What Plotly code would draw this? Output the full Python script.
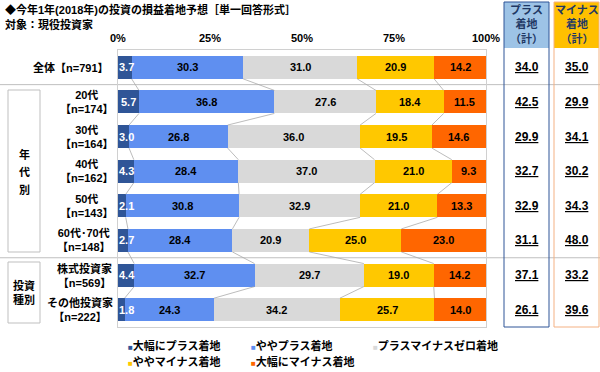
import plotly.graph_objects as go

# ---------------- data ----------------
row_labels = ["全体【n=791】", "20代<br>【n=174】", "30代<br>【n=164】", "40代<br>【n=162】",
              "50代<br>【n=143】", "60代･70代<br>【n=148】", "株式投資家<br>【n=569】", "その他投資家<br>【n=222】"]
series_names = ["大幅にプラス着地", "ややプラス着地", "プラスマイナスゼロ着地", "ややマイナス着地", "大幅にマイナス着地"]
big_plus = [3.7, 5.7, 3.0, 4.3, 2.1, 2.7, 4.4, 1.8]
some_plus = [30.3, 36.8, 26.8, 28.4, 30.8, 28.4, 32.7, 24.3]
zero = [31.0, 27.6, 36.0, 37.0, 32.9, 20.9, 29.7, 34.2]
some_minus = [20.9, 18.4, 19.5, 21.0, 21.0, 25.0, 19.0, 25.7]
big_minus = [14.2, 11.5, 14.6, 9.3, 13.3, 23.0, 14.2, 14.0]
plus_total = [34.0, 42.5, 29.9, 32.7, 32.9, 31.1, 37.1, 26.1]
minus_total = [35.0, 29.9, 34.1, 30.2, 34.3, 48.0, 33.2, 39.6]
tick_vals = [0, 25, 50, 75, 100]
tick_text = ["0%", "25%", "50%", "75%", "100%"]

series = [big_plus, some_plus, zero, some_minus, big_minus]
colors = ["#2F5597", "#5F8FF0", "#D9D9D9", "#FFC800", "#FF6600"]
text_colors = ["white", "black", "black", "black", "black"]

W, H = 600, 372
FONT = "Liberation Sans, Arial, Noto Sans CJK JP, sans-serif"

def px(x):
    return x / W

def py(y):
    return 1 - y / H

rows = list(range(len(row_labels)))
BAR_W = 0.665
label_x = [111, 87, 87, 87, 87, 84, 84, 80]

fig = go.Figure()

for name, vals, col in zip(series_names, series, colors):
    fig.add_trace(go.Bar(
        x=vals, y=rows, orientation="h", name=name,
        marker=dict(color=col, line=dict(width=0)),
        width=BAR_W, showlegend=False, hoverinfo="skip",
    ))

# series connector lines (computed from cumulative data)
cum = []
for i in rows:
    c, acc = [], 0.0
    for s in series:
        c.append(acc)
        acc += s[i]
    c.append(acc)
    cum.append(c)

lx, ly = [], []
for i in rows[:-1]:
    for k in range(1, 5):
        lx += [cum[i][k], cum[i + 1][k], None]
        ly += [i + BAR_W / 2, i + 1 - BAR_W / 2, None]
fig.add_trace(go.Scatter(x=lx, y=ly, mode="lines", line=dict(color="#A6A6A6", width=0.75),
                         showlegend=False, hoverinfo="skip"))

annotations = []

def ann(x, y, text, xref="paper", yref="paper", xanchor="center", yanchor="middle",
        color="black", size=11, align="center"):
    annotations.append(dict(x=x, y=y, xref=xref, yref=yref, text=text, showarrow=False,
                            xanchor=xanchor, yanchor=yanchor, align=align,
                            font=dict(family=FONT, size=size, color=color)))

# segment labels
for i in rows:
    for k, s in enumerate(series):
        v = s[i]
        mid = cum[i][k] + v / 2
        if k == 0:
            mid = max(mid, 2.4)
        ann(mid, i, f"<b>{v:.1f}</b>", xref="x", yref="y", color=text_colors[k])

# row labels
for i, lab in zip(rows, row_labels):
    if i == 0:
        ann(px(label_x[i]), i, "<b>" + lab + "</b>", yref="y", xanchor="right")
    else:
        ann(px(label_x[i]), i, "<b>" + lab + "</b>", yref="y")

# totals columns
for i in rows:
    ann(px(527), i, f"<b><u>{plus_total[i]:.1f}</u></b>", yref="y", size=12)
    ann(px(577), i, f"<b><u>{minus_total[i]:.1f}</u></b>", yref="y", size=12)

# tick labels on top
for v, t in zip(tick_vals, tick_text):
    ann(v, py(38), "<b>" + t + "</b>", xref="x")

# title
ann(px(3), py(10), "<b>◆今年1年(2018年)の投資の損益着地予想［単一回答形式］</b>", xanchor="left")
ann(px(3), py(25), "<b>対象：現役投資家</b>", xanchor="left")

# headers
ann(px(526.5), py(25), "<b>プラス<br>着地<br>（計）</b>", color="#1F3864")
ann(px(576.5), py(25), "<b>マイナス<br>着地<br>（計）</b>", color="#1F3864")

# group labels
for ch, yy in zip(["年", "代", "別"], [154, 172, 190]):
    ann(px(24), py(yy), "<b>" + ch + "</b>")
ann(px(24), py(292), "<b>投資<br>種別</b>")

# legend
legend_pos = [(126, 345), (249, 345), (371, 345), (126, 361), (249, 361)]
for (lxp, lyp), name, col in zip(legend_pos, series_names, colors):
    ann(px(lxp), py(lyp), f"<span style='color:{col};font-size:8px'>■</span><b>{name}</b>",
        xanchor="left")

shapes = []
# separators
for yv in [0.5, 5.5]:
    shapes.append(dict(type="line", xref="paper", yref="y", x0=0, x1=1, y0=yv, y1=yv,
                       line=dict(color="#BFBFBF", width=1), layer="below"))
# group boxes
shapes.append(dict(type="rect", xref="paper", yref="paper", x0=px(8), x1=px(40), y0=py(252), y1=py(90),
                   line=dict(color="#BFBFBF", width=1)))
shapes.append(dict(type="rect", xref="paper", yref="paper", x0=px(8), x1=px(40), y0=py(323), y1=py(262),
                   line=dict(color="#BFBFBF", width=1)))
# total column boxes
shapes.append(dict(type="rect", xref="paper", yref="paper", x0=px(504), x1=px(549), y0=py(48), y1=py(2),
                   fillcolor="#9DC3E6", line=dict(width=0), layer="below"))
shapes.append(dict(type="rect", xref="paper", yref="paper", x0=px(554), x1=px(599), y0=py(48), y1=py(2),
                   fillcolor="#FFC000", line=dict(width=0), layer="below"))
shapes.append(dict(type="rect", xref="paper", yref="paper", x0=px(504), x1=px(549), y0=py(327), y1=py(2),
                   line=dict(color="#2F5597", width=1)))
shapes.append(dict(type="rect", xref="paper", yref="paper", x0=px(554), x1=px(599), y0=py(327), y1=py(2),
                   line=dict(color="#F4B183", width=1)))

fig.update_layout(
    width=W, height=H, margin=dict(l=0, r=0, t=0, b=0),
    paper_bgcolor="white", plot_bgcolor="white",
    barmode="stack", bargap=0,
    showlegend=False,
    xaxis=dict(domain=[px(118), px(486)], range=[0, 100], showgrid=False, zeroline=False,
               showticklabels=False, showline=True, mirror=True, linecolor="#D0D0D0", linewidth=1,
               fixedrange=True),
    yaxis=dict(domain=[py(327), py(50)], range=[7.5, -0.5], showgrid=False, zeroline=False,
               showticklabels=False, showline=True, mirror=True, linecolor="#D0D0D0", linewidth=1,
               fixedrange=True),
    annotations=annotations, shapes=shapes,
    font=dict(family=FONT),
)

fig.write_html("out.html", config={"displayModeBar": False},
               post_script="document.body.style.margin='0px';")
